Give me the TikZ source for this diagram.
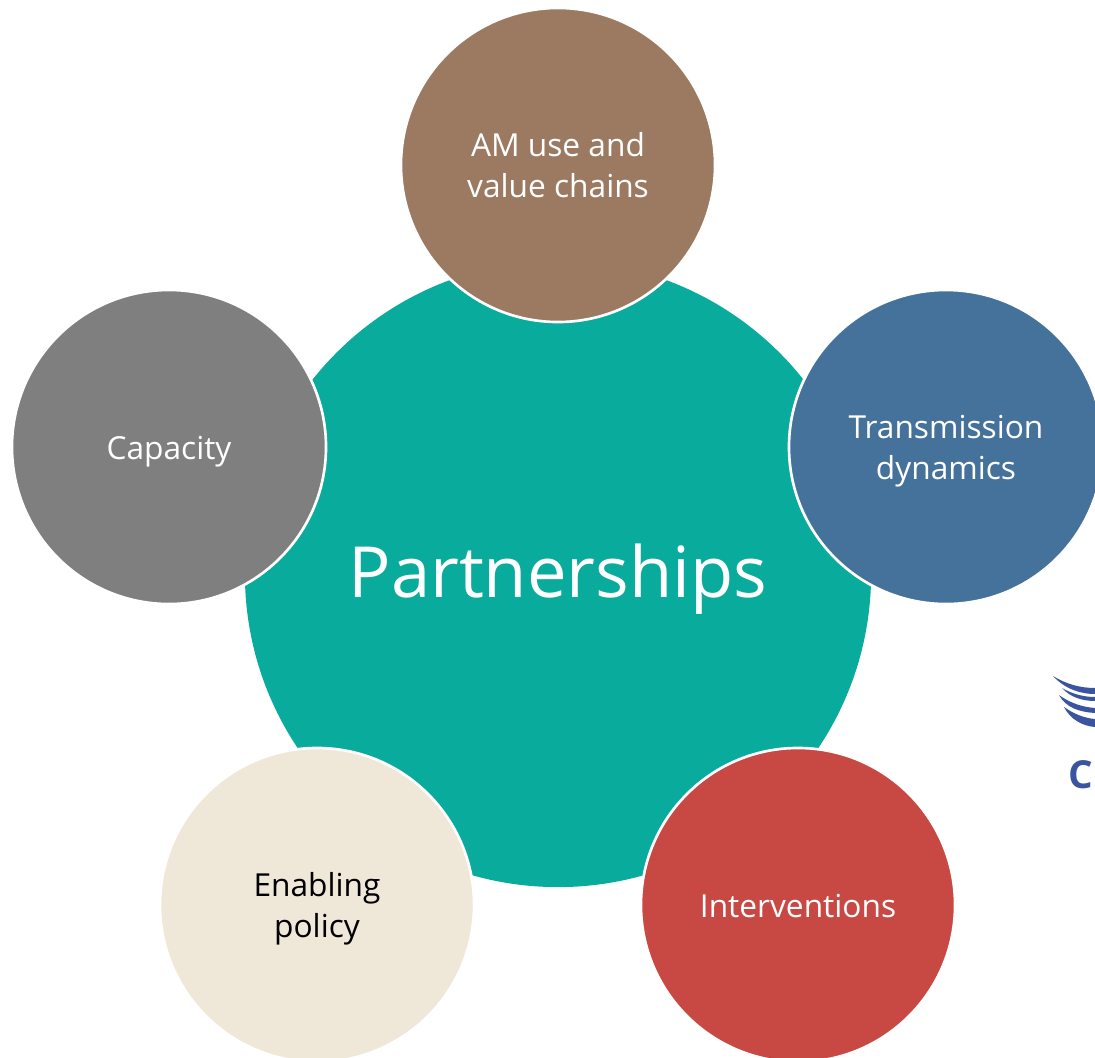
\documentclass[tikz,border=0pt]{standalone}
\usepackage{fontspec}
\setmainfont{Open Sans}
\definecolor{hubteal}{HTML}{09AB9C}
\definecolor{usebrown}{HTML}{9C7A62}
\definecolor{dynblue}{HTML}{44729B}
\definecolor{intred}{HTML}{C84843}
\definecolor{policycream}{HTML}{EFE7D8}
\definecolor{capgray}{HTML}{7F7F7F}
\definecolor{logoblue}{HTML}{3A54A0}
\newcommand{\linestrut}{\rule[-0.2\baselineskip]{0pt}{\baselineskip}}
\tikzset{
  spoke/.style={circle,draw=white,line width=0.07cm,minimum size=8.29cm,inner sep=0pt,
    align=center,text=white,font=\fontsize{23.8}{30.7}\selectfont},
}
\begin{document}
\begin{tikzpicture}[x=0.0264cm,y=-0.0264cm]
  \useasboundingbox (0,0) rectangle (1095,1057);
  \begin{scope}
    \clip (0,0) rectangle (1095,1057);
    \node[circle,fill=hubteal,minimum size=16.53cm,inner sep=0pt,text=white,text depth=4.4pt,
      font=\fontsize{53}{62}\selectfont] (hub) at (558,574) {Partnerships};
    \node[spoke,fill=usebrown] (use) at (558,165) {\linestrut AM use and\\\linestrut value chains};
    \node[spoke,fill=dynblue] (dyn) at (946,447) {\linestrut Transmission\\\linestrut dynamics};
    \node[spoke,fill=intred] (int) at (798,905) {\linestrut Interventions};
    \node[spoke,fill=policycream,text=black] (policy) at (317,905) {\linestrut Enabling\\\linestrut policy};
    \node[spoke,fill=capgray] (cap) at (169,447) {\linestrut Capacity};
    \node[text=logoblue,font=\bfseries\fontsize{29}{29}\selectfont,anchor=west,inner sep=0pt] (logo) at (1068,775) {C};
    \fill[logoblue] (1053,676) .. controls (1066,684) and (1080,688) .. (1095,688)
      -- (1095,694) .. controls (1082,694) and (1066,690) .. (1053,676) -- cycle;
    \fill[logoblue] (1062,688) .. controls (1072,694) and (1084,697) .. (1095,697)
      -- (1095,701) .. controls (1082,701) and (1070,697) .. (1062,688) -- cycle;
    \fill[logoblue] (1059,695) .. controls (1070,703) and (1082,707) .. (1095,708)
      -- (1095,713) .. controls (1080,712) and (1066,708) .. (1059,695) -- cycle;
    \fill[logoblue] (1064,707) .. controls (1074,714) and (1084,718) .. (1095,719)
      -- (1095,727) .. controls (1082,726) and (1070,719) .. (1064,707) -- cycle;
  \end{scope}
\end{tikzpicture}
\end{document}
